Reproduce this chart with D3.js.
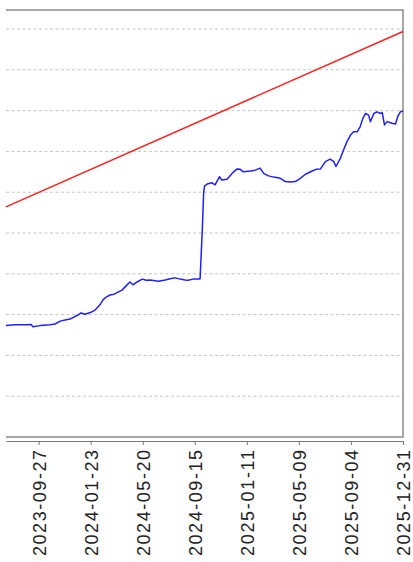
<!DOCTYPE html>
<html>
<head>
<meta charset="utf-8">
<script src="https://cdn.jsdelivr.net/npm/d3@7"></script>
<style>
  body { margin: 0; background: #fff; }
  .grid line { stroke: #c4c4c4; stroke-dasharray: 3,2.5; }
  .xaxis text { font-family: "Liberation Sans", Arial, sans-serif; font-size: 18px; fill: #222; }
  .xaxis line, .xaxis path { stroke: #777; }
</style>
</head>
<body>
<svg id="chart" width="413" height="562"></svg>
<script>
/************************************ Data *******************************/
var tickLabels = ["2023-09-27", "2024-01-23", "2024-05-20", "2024-09-15",
                  "2025-01-11", "2025-05-09", "2025-09-04", "2025-12-31"];

var gridValues = [10, 20, 30, 40, 50, 60, 70, 80, 90, 100];

// red series (almost straight)
var redDates  = ["2023-07-15", "2025-12-31"];
var redValues = [56.4, 99.4];

// blue series
var blueDates = [
  "2023-07-15","2023-08-04","2023-08-27","2023-09-10","2023-09-14","2023-09-30",
  "2023-10-23","2023-11-03","2023-11-15","2023-11-26","2023-12-07","2023-12-25",
  "2024-01-01","2024-01-10","2024-01-22","2024-02-02","2024-02-13","2024-02-20",
  "2024-02-27","2024-03-07","2024-03-16","2024-03-25","2024-04-03","2024-04-10",
  "2024-04-21","2024-04-28","2024-05-07","2024-05-19","2024-05-28","2024-06-06",
  "2024-06-24","2024-07-10","2024-07-21","2024-08-01","2024-08-13","2024-08-24",
  "2024-08-31","2024-09-11","2024-09-25","2024-09-27","2024-10-02","2024-10-05",
  "2024-10-07","2024-10-13","2024-10-24","2024-10-31","2024-11-10","2024-11-15",
  "2024-11-27","2024-12-12","2024-12-20","2024-12-27","2025-01-03","2025-01-19",
  "2025-01-30","2025-02-10","2025-02-18","2025-03-01","2025-03-13","2025-03-28",
  "2025-04-08","2025-04-19","2025-05-01","2025-05-12","2025-05-24","2025-06-08",
  "2025-06-17","2025-06-27","2025-07-08","2025-07-19","2025-07-27","2025-08-01",
  "2025-08-11","2025-08-18","2025-08-26","2025-09-03","2025-09-10","2025-09-18",
  "2025-09-25","2025-10-01","2025-10-07","2025-10-14","2025-10-18","2025-10-26",
  "2025-11-02","2025-11-10","2025-11-14","2025-11-19","2025-11-25","2025-12-06",
  "2025-12-14","2025-12-19","2025-12-25","2025-12-31"];
var blueValues = [
  27.3, 27.5, 27.5, 27.6, 27.0, 27.3,
  27.5, 27.7, 28.4, 28.7, 28.9, 29.9,
  30.4, 30.1, 30.5, 31.1, 32.4, 33.6,
  34.3, 34.8, 35.0, 35.5, 36.0, 36.8,
  38.0, 37.3, 38.0, 38.7, 38.4, 38.5,
  38.2, 38.5, 38.8, 39.0, 38.7, 38.5,
  38.4, 38.7, 38.7, 38.8, 50.7, 59.8,
  61.5, 62.0, 62.3, 61.8, 63.8, 63.0,
  63.2, 65.0, 65.7, 65.6, 65.0, 65.2,
  65.4, 65.9, 64.6, 64.0, 63.7, 63.4,
  62.6, 62.5, 62.6, 63.4, 64.4, 65.2,
  65.6, 65.7, 67.5, 68.1, 67.5, 66.3,
  68.3, 70.3, 72.4, 74.0, 74.8, 74.8,
  76.1, 78.1, 79.3, 78.9, 77.3, 79.3,
  79.7, 79.3, 79.5, 76.5, 77.3, 76.9,
  76.7, 78.5, 79.7, 79.9];

/************************************ Scales *******************************/
var parse = d3.timeParse("%Y-%m-%d");
var svg = d3.select("#chart");

var x = d3.scaleTime()
  .domain([parse("2023-07-15"), parse("2025-12-31")])
  .range([6, 403]);
var y = d3.scaleLinear()
  .domain([0, 104.66])
  .range([437, 10]);

function toPoints(dates, values) {
  return dates.map(function(d, i) { return {date: parse(d), value: values[i]}; });
}

/************************************ Grid and box *******************************/
svg.append("g").attr("class", "grid")
  .selectAll("line").data(gridValues).enter().append("line")
    .attr("x1", x.range()[0]).attr("x2", x.range()[1])
    .attr("y1", function(d) { return y(d); })
    .attr("y2", function(d) { return y(d); });

// top, right and bottom edges of the plot box
svg.append("path")
  .attr("d", "M" + x.range()[0] + "," + y.range()[1] +
             "H" + x.range()[1] + "V" + y.range()[0] + "H" + x.range()[0])
  .attr("fill", "none").attr("stroke", "#8a8a8a").attr("stroke-width", 1.5);

/************************************ Lines *******************************/
var line = d3.line()
  .x(function(d) { return x(d.date); })
  .y(function(d) { return y(d.value); });

svg.append("path").datum(toPoints(redDates, redValues))
  .attr("d", line).attr("fill", "none")
  .attr("stroke", "#ff2020").attr("stroke-width", 1.5);

svg.append("path").datum(toPoints(blueDates, blueValues))
  .attr("d", line).attr("fill", "none")
  .attr("stroke", "#2020ff").attr("stroke-width", 1.5)
  .attr("stroke-linejoin", "round");

/************************************ Axis *******************************/
var xAxis = d3.axisBottom(x)
  .tickValues(tickLabels.map(parse))
  .tickFormat(d3.timeFormat("%Y-%m-%d"))
  .tickSize(4)
  .tickSizeOuter(0);

var gx = svg.append("g").attr("class", "xaxis")
  .attr("transform", "translate(0,441)")
  .call(xAxis);

gx.selectAll("text")
  .attr("transform", "rotate(-90)")
  .attr("x", -9).attr("y", 0).attr("dy", "0.36em")
  .attr("text-anchor", "end")
  .attr("textLength", 106).attr("lengthAdjust", "spacing");
</script>
</body>
</html>
